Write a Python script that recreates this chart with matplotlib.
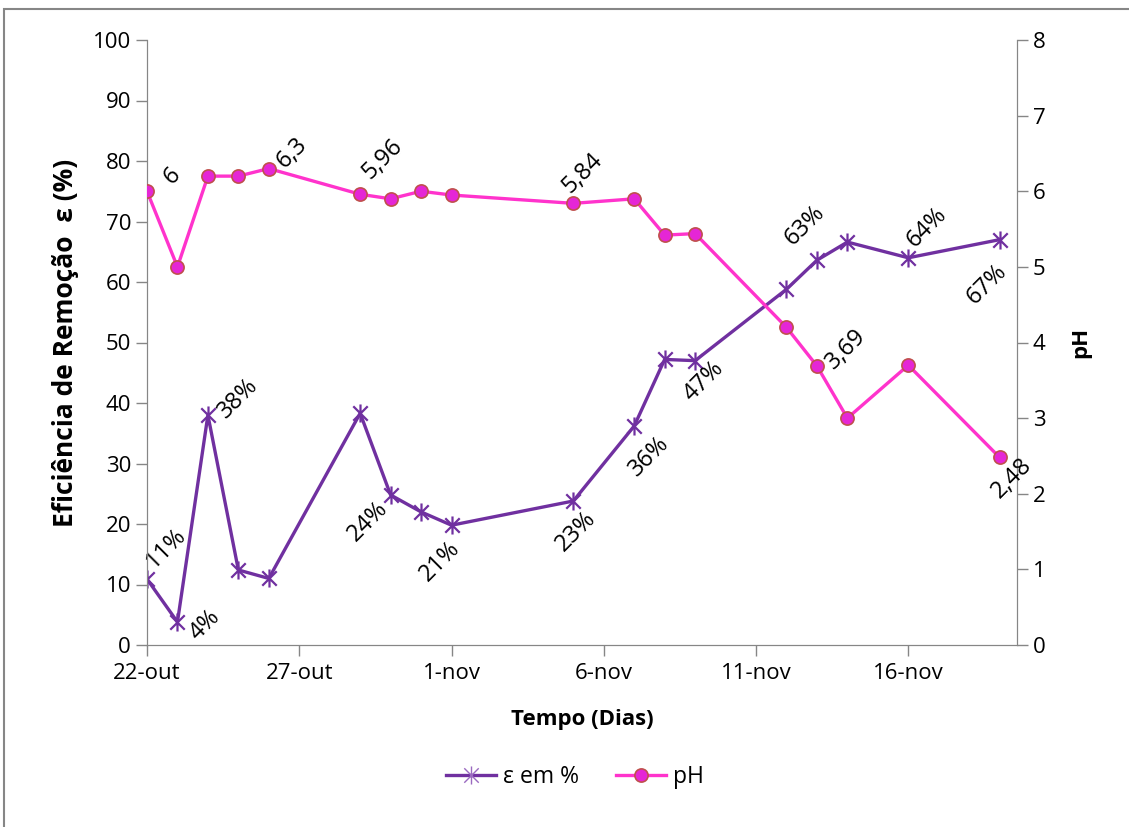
import matplotlib
matplotlib.use("Agg")
import matplotlib.pyplot as plt
from matplotlib.path import Path
from matplotlib.patches import Rectangle
from matplotlib.lines import Line2D

plt.rcParams['font.family'] = ['Open Sans', 'DejaVu Sans']

# days counted from 22-out
days = [0, 1, 2, 3, 4, 7, 8, 9, 10, 14, 16, 17, 18, 21, 22, 23, 25, 28]
eficiencia = [10.9, 3.8, 38.0, 12.4, 11.0, 38.3, 24.8, 22.0, 19.8, 23.8,
              36.2, 47.2, 47.0, 58.8, 63.6, 66.6, 64.0, 67.0]
ph = [6.0, 5.0, 6.2, 6.2, 6.3, 5.96, 5.9, 6.0, 5.95, 5.84,
      5.9, 5.42, 5.44, 4.2, 3.69, 3.0, 3.7, 2.48]

tick_days = [0, 5, 10, 15, 20, 25]
tick_labels = ['22-out', '27-out', '1-nov', '6-nov', '11-nov', '16-nov']

# labelled points: (index, text, dx, dy) offsets in points
ef_labels = [(0, '11%', 14, 22), (1, '4%', 20, -2), (2, '38%', 22, 12),
             (6, '24%', -16, -19), (8, '21%', -8, -26), (9, '23%', 2, -22),
             (10, '36%', 11, -22), (12, '47%', 6, -15), (14, '63%', -9, 25),
             (16, '64%', 13, 22), (17, '67%', -9, -32)]
ph_labels = [(0, '6', 18, 11), (4, '6,3', 17, 11), (5, '5,96', 16, 25),
             (9, '5,84', 7, 22), (14, '3,69', 21, 12), (17, '2,48', 9, -15)]

purple = '#7030A0'
magenta = '#FF33CC'

# excel style star: X with a vertical bar
star = Path([(-1, -1), (1, 1), (-1, 1), (1, -1), (0, -1.25), (0, 1.25)],
            [Path.MOVETO, Path.LINETO, Path.MOVETO, Path.LINETO,
             Path.MOVETO, Path.LINETO])

fig = plt.figure(figsize=(11.29, 8.27), dpi=100)
ax = fig.add_axes([147 / 1129, 1 - 645 / 827, 870 / 1129, 605 / 827])
ax2 = ax.twinx()

ax.plot(days, eficiencia, color=purple, lw=2.4, marker=star, ms=13,
        mew=1.6, mec=purple, zorder=3)
ax2.plot(days, ph, color=magenta, lw=2.4, marker='o', ms=9.5,
         mfc='#E526D6', mec='#C0504D', mew=1.2, zorder=3)

for i, txt, dx, dy in ef_labels:
    ax.annotate(txt, (days[i], eficiencia[i]), xytext=(dx, dy),
                textcoords='offset points', rotation=45, ha='center',
                va='center', fontsize=17)
for i, txt, dx, dy in ph_labels:
    ax2.annotate(txt, (days[i], ph[i]), xytext=(dx, dy),
                 textcoords='offset points', rotation=45, ha='center',
                 va='center', fontsize=17)

ax.set_xlim(0, 28.57)
ax.set_ylim(0, 100)
ax2.set_ylim(0, 8)
ax.set_yticks(range(0, 101, 10))
ax2.set_yticks(range(0, 9))
ax.set_xticks(tick_days)
ax.set_xticklabels(tick_labels)

for a in (ax, ax2):
    for s in a.spines.values():
        s.set_color('#868686')
    a.spines['top'].set_visible(False)
    a.tick_params(colors='#868686', labelcolor='black', labelsize=16,
                  length=8, width=1)
ax.tick_params(axis='x', pad=5)

ax.set_xlabel('Tempo (Dias)', fontsize=16, fontweight='bold', labelpad=18)
ax.set_ylabel('Eficiência de Remoção  ε (%)', fontsize=19,
              fontweight='bold', labelpad=10)
ax2.set_ylabel('pH', fontsize=16, fontweight='bold', labelpad=18)

handles = [Line2D([], [], color=purple, lw=2.4, marker=star, ms=13, mew=1,
                  mec='#9a6ac0'),
           Line2D([], [], color=magenta, lw=2.4, marker='o', ms=9.5,
                  mfc='#E526D6', mec='#C0504D', mew=1.2)]
fig.legend(handles, ['ε em %', 'pH'], loc='center',
           bbox_to_anchor=(575 / 1129, 1 - 777 / 827), ncol=2, frameon=False,
           fontsize=16.5, handlelength=2.2, handletextpad=0.3,
           columnspacing=1.6)

fig.patches.append(Rectangle((4 / 1129, -0.05), 1.2, 1 - 9 / 827 + 0.05,
                             transform=fig.transFigure, fill=False,
                             edgecolor='#868686', lw=1.5))

fig.savefig('out.png', dpi=100)
